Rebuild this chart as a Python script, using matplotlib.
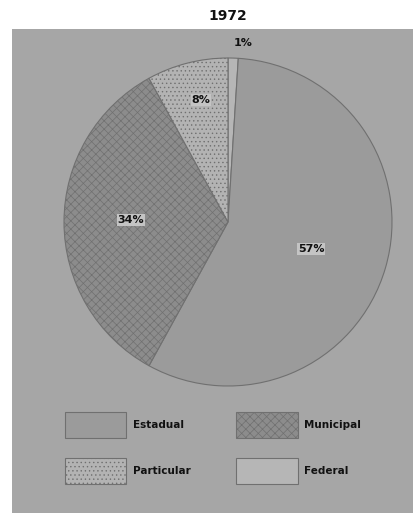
import matplotlib
matplotlib.use("Agg")
import matplotlib.pyplot as plt
from matplotlib.patches import Rectangle

title = "1972"
categories = ["Federal", "Estadual", "Municipal", "Particular"]
values = [1, 57, 34, 8]
pct_labels = ["1%", "57%", "34%", "8%"]
colors = ["#b6b6b6", "#9b9b9b", "#8c8c8c", "#b3b3b3"]
hatches = ["", "", "xxxx", "...."]
legend_order = ["Estadual", "Particular", "Municipal", "Federal"]

W, H = 413, 513
fig = plt.figure(figsize=(W / 100, H / 100), dpi=100)
fig.patch.set_facecolor("white")
ax = fig.add_axes([0, 0, 1, 1])
ax.set_xlim(0, W)
ax.set_ylim(0, H)
ax.set_aspect("equal")
ax.axis("off")

# gray panel
ax.add_patch(Rectangle((12, 0), 401, 484, facecolor="#a6a6a6", edgecolor="none", zorder=0))

plt.rcParams["hatch.color"] = "#767676"
plt.rcParams["hatch.linewidth"] = 0.5
wedges, _ = ax.pie(values, colors=colors, startangle=90, counterclock=False,
                   center=(228, 291), radius=164,
                   wedgeprops=dict(edgecolor="#707070", linewidth=0.8),
                   frame=True)
for w, h in zip(wedges, hatches):
    w.set_hatch(h)
ax.set_xlim(0, W)
ax.set_ylim(0, H)
ax.axis("off")

label_pos = {"1%": (243, 470), "57%": (311, 264), "34%": (131, 293), "8%": (201, 413)}
for lab in pct_labels:
    x, y = label_pos[lab]
    ax.text(x, y, lab, ha="center", va="center", fontsize=8, fontweight="bold",
            color="#111111", family="DejaVu Sans",
            bbox=dict(facecolor="#c4c4c4", edgecolor="none", pad=0.6) if lab != "1%" else None)

ax.text(228, 497, title, ha="center", va="center", fontsize=10, fontweight="bold", color="#111111")

handles = [wedges[categories.index(c)] for c in legend_order]
leg = ax.legend(handles, legend_order, ncol=2, loc="upper left",
                bbox_to_anchor=(65 / W, 101 / H), frameon=False,
                fontsize=7.5, handlelength=5.9, handleheight=3.5,
                handletextpad=0.6, columnspacing=4.4, labelspacing=1.9,
                borderpad=0, borderaxespad=0)
for t in leg.get_texts():
    t.set_fontweight("bold")
    t.set_color("#111111")

fig.savefig("out.png", dpi=100, facecolor="white")
